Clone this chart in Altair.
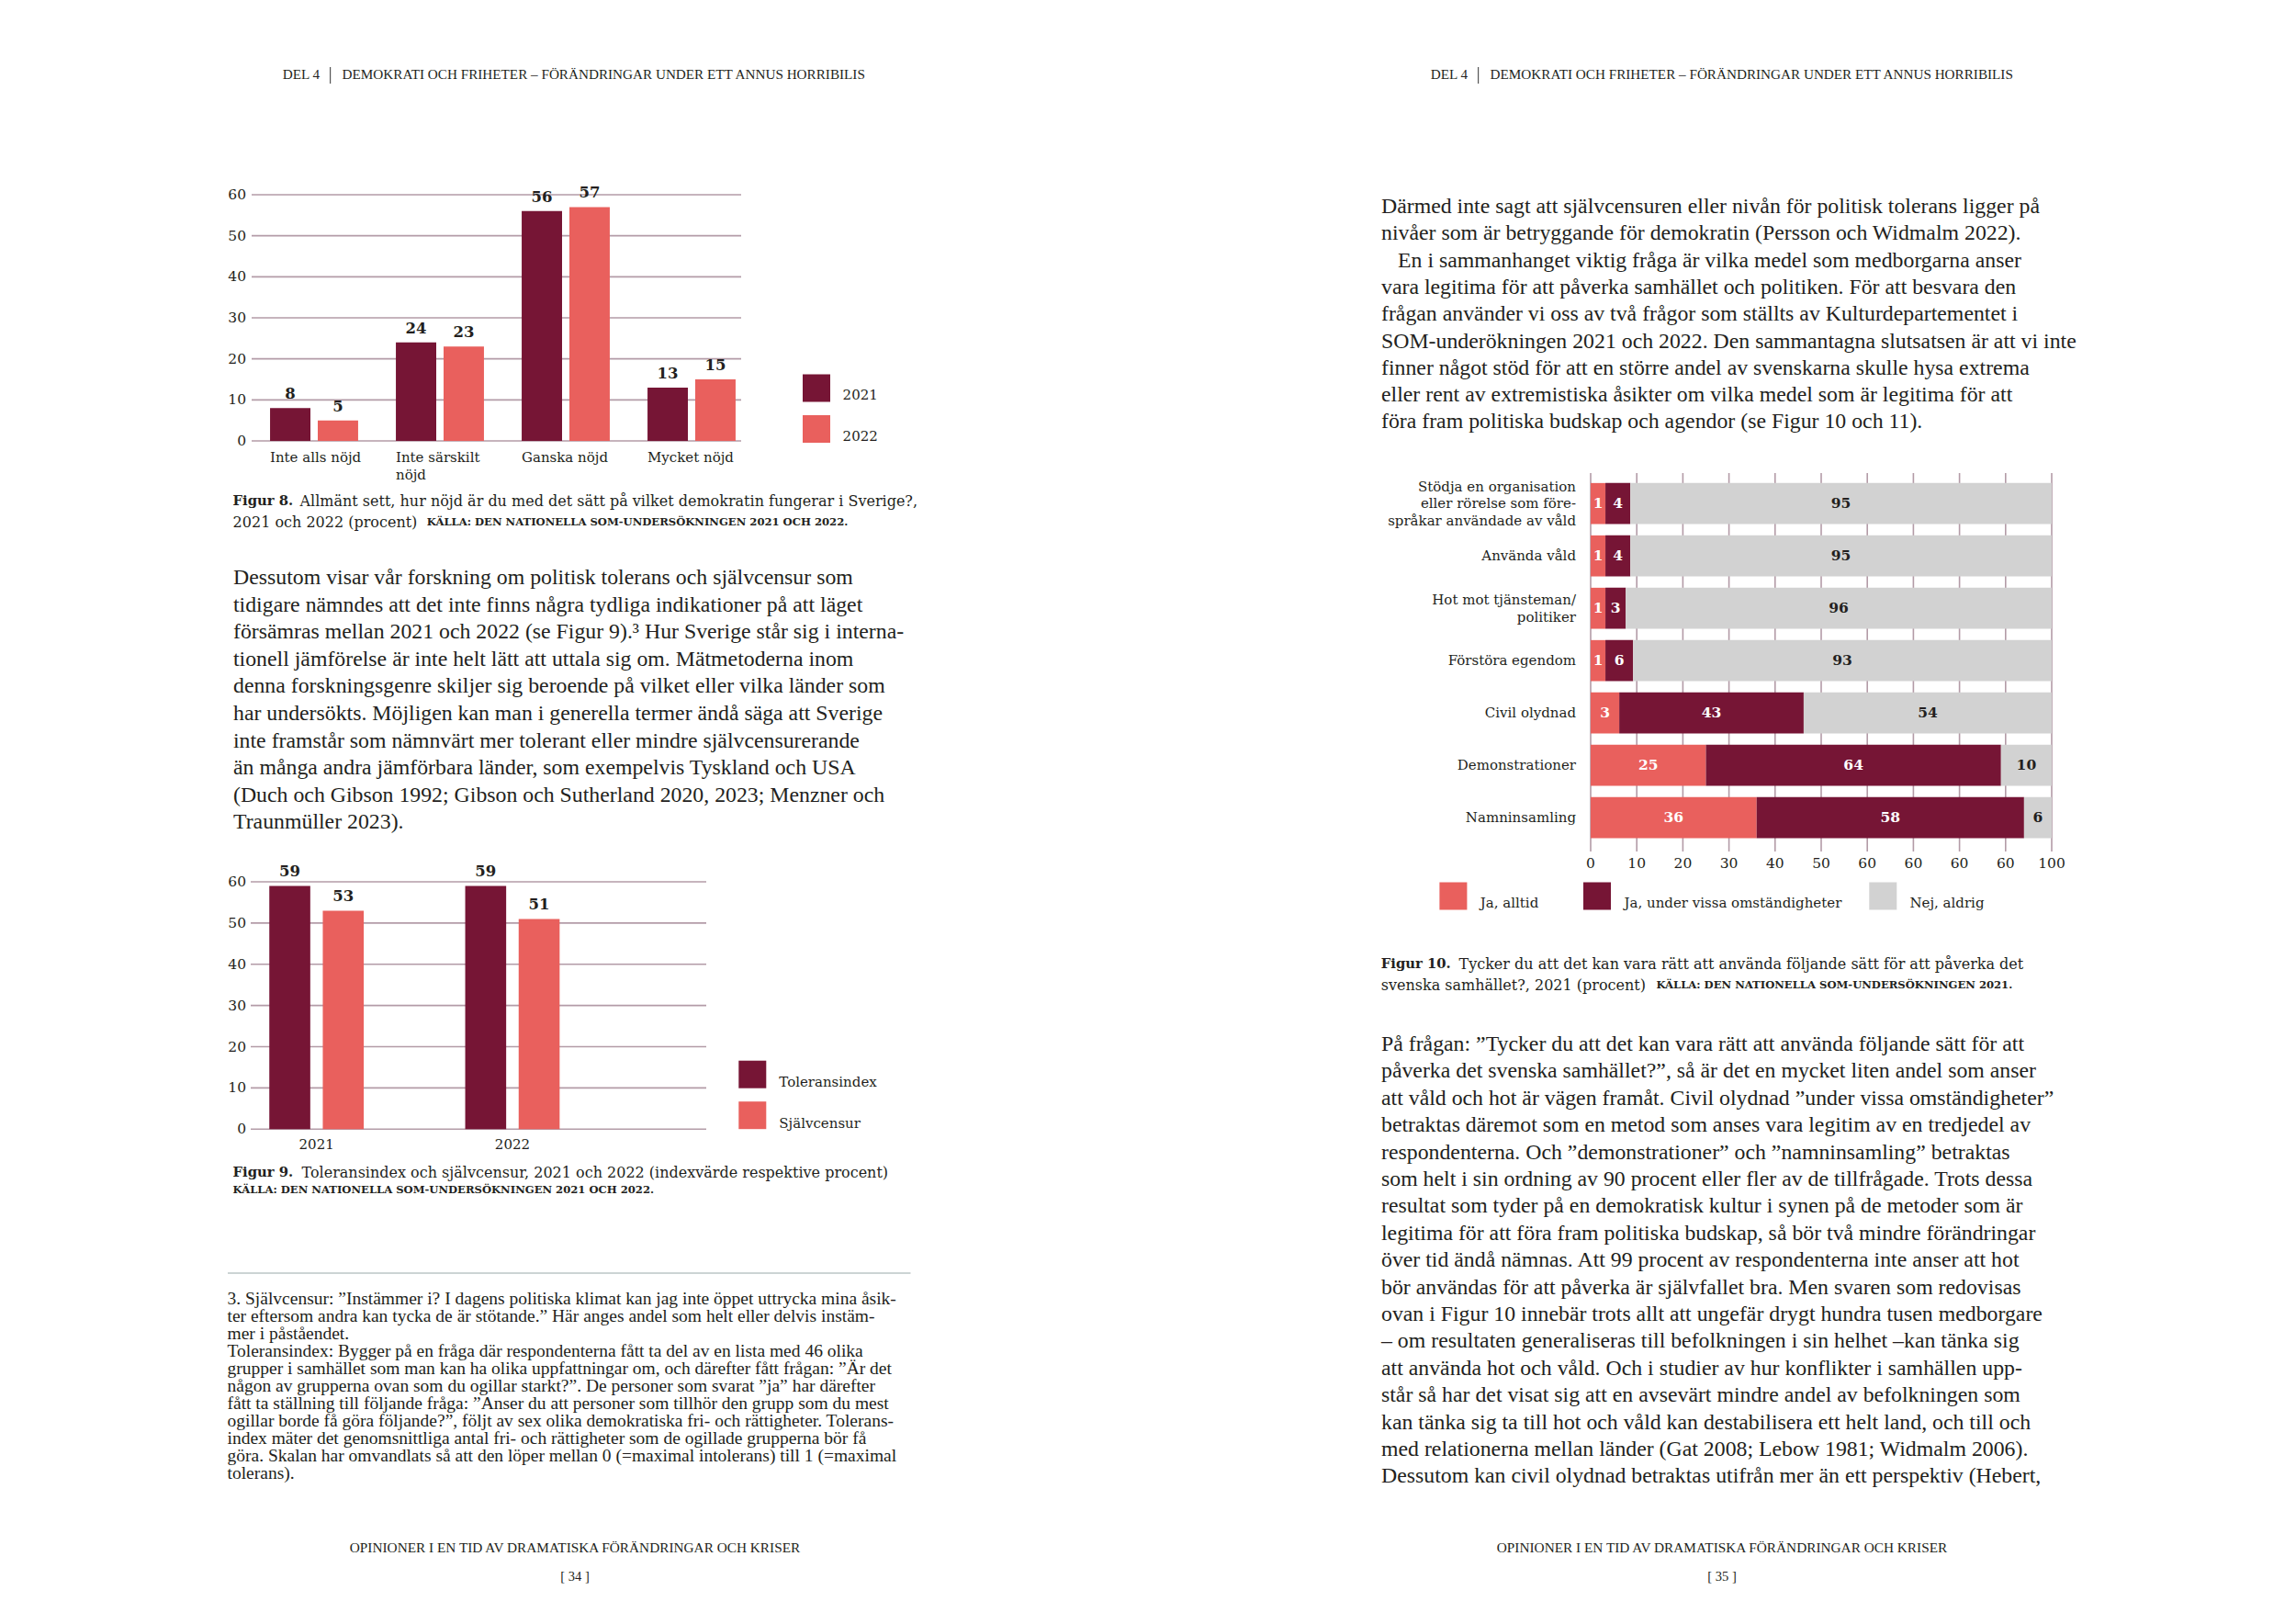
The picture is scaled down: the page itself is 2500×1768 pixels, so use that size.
import altair as alt
import pandas as pd

# ---------------------------------------------------------------- data
fig8_categories = ["Inte alls nöjd", "Inte särskilt\nnöjd", "Ganska nöjd", "Mycket nöjd"]
fig8_years = ["2021", "2022"]
fig8_values_2021 = [8, 24, 56, 13]
fig8_values_2022 = [5, 23, 57, 15]
fig8_ticks = [0, 10, 20, 30, 40, 50, 60]

fig9_years = ["2021", "2022"]
fig9_series = ["Toleransindex", "Självcensur"]
fig9_toleransindex = [59, 59]
fig9_sjalvcensur = [53, 51]
fig9_ticks = [0, 10, 20, 30, 40, 50, 60]

fig10_categories = [
    "Stödja en organisation\neller rörelse som före-\nspråkar användade av våld",
    "Använda våld",
    "Hot mot tjänsteman/\npolitiker",
    "Förstöra egendom",
    "Civil olydnad",
    "Demonstrationer",
    "Namninsamling",
]
fig10_series = ["Ja, alltid", "Ja, under vissa omständigheter", "Nej, aldrig"]
fig10_ja_alltid = [1, 1, 1, 1, 3, 25, 36]
fig10_ja_vissa = [4, 4, 3, 6, 43, 64, 58]
fig10_nej_aldrig = [95, 95, 96, 93, 54, 10, 6]
# segment lengths as drawn in the original (small segments are drawn wider there)
fig10_ja_alltid_drawn = [3.2, 3.2, 3.2, 3.2, 6.2, 25, 36]
fig10_ja_vissa_drawn = [5.4, 5.4, 4.4, 6.0, 40, 64, 58]
fig10_tick_values = [0, 10, 20, 30, 40, 50, 60, 70, 80, 90, 100]
fig10_tick_labels = ["0", "10", "20", "30", "40", "50", "60", "60", "60", "60", "100"]

header_part = "DEL 4"
header_title = "DEMOKRATI OCH FRIHETER – FÖRÄNDRINGAR UNDER ETT ANNUS HORRIBILIS"
footer_title = "OPINIONER I EN TID AV DRAMATISKA FÖRÄNDRINGAR OCH KRISER"
page_left = "[ 34 ]"
page_right = "[ 35 ]"

fig8_caption_bold = "Figur 8."
fig8_caption_1 = "Allmänt sett, hur nöjd är du med det sätt på vilket demokratin fungerar i Sverige?,"
fig8_caption_2 = "2021 och 2022 (procent)"
fig8_source = "KÄLLA: DEN NATIONELLA SOM-UNDERSÖKNINGEN 2021 OCH 2022."

fig9_caption_bold = "Figur 9."
fig9_caption_1 = "Toleransindex och självcensur, 2021 och 2022 (indexvärde respektive procent)"
fig9_source = "KÄLLA: DEN NATIONELLA SOM-UNDERSÖKNINGEN 2021 OCH 2022."

fig10_caption_bold = "Figur 10."
fig10_caption_1 = "Tycker du att det kan vara rätt att använda följande sätt för att påverka det"
fig10_caption_2 = "svenska samhället?, 2021 (procent)"
fig10_source = "KÄLLA: DEN NATIONELLA SOM-UNDERSÖKNINGEN 2021."

left_paragraph = [
    "Dessutom visar vår forskning om politisk tolerans och självcensur som",
    "tidigare nämndes att det inte finns några tydliga indikationer på att läget",
    "försämras mellan 2021 och 2022 (se Figur 9).³  Hur Sverige står sig i interna-",
    "tionell jämförelse är inte helt lätt att uttala sig om. Mätmetoderna inom",
    "denna forskningsgenre skiljer sig beroende på vilket eller vilka länder som",
    "har undersökts. Möjligen kan man i generella termer ändå säga att Sverige",
    "inte framstår som nämnvärt mer tolerant eller mindre självcensurerande",
    "än många andra jämförbara länder, som exempelvis Tyskland och USA",
    "(Duch och Gibson 1992; Gibson och Sutherland 2020, 2023; Menzner och",
    "Traunmüller 2023).",
]

footnote_lines = [
    "3.  Självcensur: ”Instämmer i? I dagens politiska klimat kan jag inte öppet uttrycka mina åsik-",
    "ter eftersom andra kan tycka de är stötande.” Här anges andel som helt eller delvis instäm-",
    "mer i påståendet.",
    "Toleransindex: Bygger på en fråga där respondenterna fått ta del av en lista med 46 olika",
    "grupper i samhället som man kan ha olika uppfattningar om, och därefter fått frågan: ”Är det",
    "någon av grupperna ovan som du ogillar starkt?”. De personer som svarat ”ja” har därefter",
    "fått ta ställning till följande fråga: ”Anser du att personer som tillhör den grupp som du mest",
    "ogillar borde få göra följande?”, följt av sex olika demokratiska fri- och rättigheter. Tolerans-",
    "index mäter det genomsnittliga antal fri- och rättigheter som de ogillade grupperna bör få",
    "göra. Skalan har omvandlats så att den löper mellan 0 (=maximal intolerans) till 1 (=maximal",
    "tolerans).",
]

right_paragraph_a = [
    "Därmed inte sagt att självcensuren eller nivån för politisk tolerans ligger på",
    "nivåer som är betryggande för demokratin (Persson och Widmalm 2022).",
]
right_paragraph_b_first = "En i sammanhanget viktig fråga är vilka medel som medborgarna anser"
right_paragraph_b = [
    "vara legitima för att påverka samhället och politiken. För att besvara den",
    "frågan använder vi oss av två frågor som ställts av Kulturdepartementet i",
    "SOM-underökningen 2021 och 2022. Den sammantagna slutsatsen är att vi inte",
    "finner något stöd för att en större andel av svenskarna skulle hysa extrema",
    "eller rent av extremistiska åsikter om vilka medel som är legitima för att",
    "föra fram politiska budskap och agendor (se Figur 10 och 11).",
]

right_paragraph_c = [
    "På frågan: ”Tycker du att det kan vara rätt att använda följande sätt för att",
    "påverka det svenska samhället?”, så är det en mycket liten andel som anser",
    "att våld och hot är vägen framåt. Civil olydnad ”under vissa omständigheter”",
    "betraktas däremot som en metod som anses vara legitim av en tredjedel av",
    "respondenterna. Och ”demonstrationer” och ”namninsamling” betraktas",
    "som helt i sin ordning av 90 procent eller fler av de tillfrågade. Trots dessa",
    "resultat som tyder på en demokratisk kultur i synen på de metoder som är",
    "legitima för att föra fram politiska budskap, så bör två mindre förändringar",
    "över tid ändå nämnas. Att 99 procent av respondenterna inte anser att hot",
    "bör användas för att påverka är självfallet bra. Men svaren som redovisas",
    "ovan i Figur 10 innebär trots allt att ungefär drygt hundra tusen medborgare",
    "– om resultaten generaliseras till befolkningen i sin helhet –kan tänka sig",
    "att använda hot och våld. Och i studier av hur konflikter i samhällen upp-",
    "står så har det visat sig att en avsevärt mindre andel av befolkningen som",
    "kan tänka sig ta till hot och våld kan destabilisera ett helt land, och till och",
    "med relationerna mellan länder (Gat 2008; Lebow 1981; Widmalm 2006).",
    "Dessutom kan civil olydnad betraktas utifrån mer än ett perspektiv (Hebert,",
]

# ---------------------------------------------------------------- style
MAROON = "#761535"
CORAL = "#e9605d"
GREY = "#d2d2d2"
GRID = "#b39ba7"
INK = "#231f20"
RULE = "#9aa9a9"
CHART_FONT = "DejaVu Serif"
BODY_FONT = "Liberation Serif"
BODY_FS = 23.8
CAP_FS = 16
CAP_BOLD_FS = 14.8
SRC_FS = 11.6
VAL_FS = 16.5
W, H = 2484, 1752
MARGIN = 8


def cx(v):
    """page pixel -> canvas pixel"""
    return v - MARGIN


ONE = pd.DataFrame({"a": [0]})
layers = []


def text_block(lines, x, y0, lh, size, font=BODY_FONT, weight="normal", color=INK,
               align="left", start=0):
    df = pd.DataFrame({"t": lines, "i": [start + k for k in range(len(lines))]})
    return alt.Chart(df).mark_text(
        align=align, baseline="middle", font=font, fontSize=size,
        fontWeight=weight, color=color
    ).encode(
        x=alt.value(cx(x)),
        y=alt.Y("i:Q", scale=alt.Scale(domain=[0, 1], range=[cx(y0), cx(y0) + lh],
                                       nice=False, zero=False), axis=None),
        text="t:N",
    )


def seg(text, x, y, size, font=CHART_FONT, weight="normal", color=INK, align="left"):
    return text_block([text], x, y, 10, size, font=font, weight=weight, color=color, align=align)


def vrule(x, y1, y2, color=INK, w=1.0):
    return alt.Chart(ONE).mark_rule(color=color, strokeWidth=w).encode(
        x=alt.value(cx(x)), y=alt.value(cx(y1)), y2=alt.value(cx(y2)))


def hrule(x1, x2, y, color=INK, w=1.0):
    return alt.Chart(ONE).mark_rule(color=color, strokeWidth=w).encode(
        x=alt.value(cx(x1)), x2=alt.value(cx(x2)), y=alt.value(cx(y)))


# ---------------------------------------------------------------- headers / footers
for (x_part, x_bar, x_title) in [(307.7, 359.6, 372.6), (1557.7, 1609.6, 1622.6)]:
    layers.append(seg(header_part, x_part, 81, 15.2, font=BODY_FONT))
    layers.append(vrule(x_bar, 73, 91, color="#555555", w=1.2))
    layers.append(seg(header_title, x_title, 81, 15.2, font=BODY_FONT))

for (xc, pg) in [(626, page_left), (1875, page_right)]:
    layers.append(seg(footer_title, xc, 1685, 15.3, font=BODY_FONT, align="center"))
    layers.append(seg(pg, xc, 1717, 14.5, font=BODY_FONT, align="center"))

# ---------------------------------------------------------------- body text
layers.append(text_block(left_paragraph, 254, 629, 29.6, BODY_FS))
layers.append(hrule(248, 991.5, 1386, color=RULE, w=1.2))
layers.append(text_block(footnote_lines, 247.5, 1414, 19.0, 19.5))
layers.append(text_block(right_paragraph_a, 1504, 225, 29.3, BODY_FS))
layers.append(text_block([right_paragraph_b_first], 1522, 225, 29.3, BODY_FS, start=2))
layers.append(text_block(right_paragraph_b, 1504, 225, 29.3, BODY_FS, start=3))
layers.append(text_block(right_paragraph_c, 1504, 1137, 29.4, BODY_FS))

# ---------------------------------------------------------------- Figure 8
f8 = pd.DataFrame({
    "cat": fig8_categories * 2,
    "year": [fig8_years[0]] * 4 + [fig8_years[1]] * 4,
    "value": fig8_values_2021 + fig8_values_2022,
})
x8 = alt.Scale(domain=fig8_categories, range=[cx(273.5), cx(821.5)],
               paddingInner=0.3, paddingOuter=0.15)
xo8 = alt.Scale(domain=fig8_years, paddingInner=0.154, paddingOuter=0)
y8 = alt.Scale(domain=[0, 60], range=[cx(480), cx(212)], nice=False, zero=False)
col8 = alt.Scale(domain=fig8_years, range=[MAROON, CORAL])
tick8 = pd.DataFrame({"v": fig8_ticks})

layers.append(alt.Chart(tick8).mark_rule(color=GRID, strokeWidth=1.6).encode(
    y=alt.Y("v:Q", scale=y8, axis=None), x=alt.value(cx(274)), x2=alt.value(cx(807))))
layers.append(alt.Chart(tick8).mark_text(
    align="right", baseline="middle", font=CHART_FONT, fontSize=15.5, color=INK).encode(
    y=alt.Y("v:Q", scale=y8, axis=None), x=alt.value(cx(268)), text="v:Q"))
layers.append(alt.Chart(f8).mark_bar().encode(
    x=alt.X("cat:N", scale=x8, sort=None, axis=None),
    xOffset=alt.XOffset("year:N", scale=xo8, sort=None),
    y=alt.Y("value:Q", scale=y8, axis=None),
    color=alt.Color("year:N", scale=col8, legend=None)))
# value labels: centred over each bar (bar centres sit +-26 px from the group centre)
for yr, shift in zip(fig8_years, [-26, 26]):
    layers.append(alt.Chart(f8[f8["year"] == yr]).mark_text(
        baseline="alphabetic", dx=shift, dy=-10, font=CHART_FONT, fontSize=VAL_FS,
        fontWeight="bold", color=INK).encode(
        x=alt.X("cat:N", scale=x8, sort=None, axis=None),
        y=alt.Y("value:Q", scale=y8, axis=None),
        text="value:Q"))
cat8_rows = []
for c in fig8_categories:
    for k, ln in enumerate(c.split("\n")):
        cat8_rows.append({"cat": c, "ln": k, "t": ln})
layers.append(alt.Chart(pd.DataFrame(cat8_rows)).mark_text(
    align="left", baseline="middle", dx=-48, font=CHART_FONT, fontSize=15, color=INK).encode(
    x=alt.X("cat:N", scale=x8, sort=None, axis=None),
    y=alt.Y("ln:Q", scale=alt.Scale(domain=[0, 1], range=[cx(497.5), cx(516.6)],
                                    nice=False, zero=False), axis=None),
    text="t:N"))
leg8 = pd.DataFrame({"year": fig8_years})
ly8 = alt.Scale(type="point", domain=fig8_years, range=[cx(422.5), cx(467)], padding=0)
layers.append(alt.Chart(leg8).mark_square(size=900, opacity=1, strokeWidth=0).encode(
    y=alt.Y("year:N", scale=ly8, axis=None), x=alt.value(cx(889)),
    color=alt.Color("year:N", scale=col8, legend=None)))
layers.append(alt.Chart(leg8).mark_text(
    align="left", baseline="middle", dy=7.5, font=CHART_FONT, fontSize=15, color=INK).encode(
    y=alt.Y("year:N", scale=ly8, axis=None), x=alt.value(cx(917.6)), text="year:N"))

layers.append(seg(fig8_caption_bold, 253.6, 546, CAP_BOLD_FS, weight="bold"))
layers.append(seg(fig8_caption_1, 326.5, 546, CAP_FS))
layers.append(seg(fig8_caption_2, 253.6, 568.5, CAP_FS))
layers.append(seg(fig8_source, 464.8, 568.5, SRC_FS, weight="bold"))

# ---------------------------------------------------------------- Figure 9
f9 = pd.DataFrame({
    "year": fig9_years * 2,
    "series": [fig9_series[0]] * 2 + [fig9_series[1]] * 2,
    "value": fig9_toleransindex + fig9_sjalvcensur,
})
x9 = alt.Scale(domain=fig9_years, range=[cx(238), cx(664.6)],
               paddingInner=0.518, paddingOuter=0.259)
xo9 = alt.Scale(domain=fig9_series, paddingInner=0.234, paddingOuter=0)
y9 = alt.Scale(domain=[0, 60], range=[cx(1229.3), cx(960)], nice=False, zero=False)
col9 = alt.Scale(domain=fig9_series, range=[MAROON, CORAL])
tick9 = pd.DataFrame({"v": fig9_ticks})

layers.append(alt.Chart(tick9).mark_rule(color=GRID, strokeWidth=1.6).encode(
    y=alt.Y("v:Q", scale=y9, axis=None), x=alt.value(cx(273)), x2=alt.value(cx(769))))
layers.append(alt.Chart(tick9).mark_text(
    align="right", baseline="middle", font=CHART_FONT, fontSize=15.5, color=INK).encode(
    y=alt.Y("v:Q", scale=y9, axis=None), x=alt.value(cx(268)), text="v:Q"))
layers.append(alt.Chart(f9).mark_bar().encode(
    x=alt.X("year:N", scale=x9, sort=None, axis=None),
    xOffset=alt.XOffset("series:N", scale=xo9, sort=None),
    y=alt.Y("value:Q", scale=y9, axis=None),
    color=alt.Color("series:N", scale=col9, legend=None)))
for sr, shift in zip(fig9_series, [-29.1, 29.1]):
    layers.append(alt.Chart(f9[f9["series"] == sr]).mark_text(
        baseline="alphabetic", dx=shift, dy=-10, font=CHART_FONT, fontSize=VAL_FS,
        fontWeight="bold", color=INK).encode(
        x=alt.X("year:N", scale=x9, sort=None, axis=None),
        y=alt.Y("value:Q", scale=y9, axis=None),
        text="value:Q"))
layers.append(alt.Chart(pd.DataFrame({"year": fig9_years})).mark_text(
    align="center", baseline="middle", font=CHART_FONT, fontSize=15, color=INK).encode(
    x=alt.X("year:N", scale=x9, sort=None, axis=None),
    y=alt.value(cx(1246)), text="year:N"))
leg9 = pd.DataFrame({"series": fig9_series})
ly9 = alt.Scale(type="point", domain=fig9_series, range=[cx(1169.7), cx(1214.2)], padding=0)
layers.append(alt.Chart(leg9).mark_square(size=900, opacity=1, strokeWidth=0).encode(
    y=alt.Y("series:N", scale=ly9, axis=None), x=alt.value(cx(819.3)),
    color=alt.Color("series:N", scale=col9, legend=None)))
layers.append(alt.Chart(leg9).mark_text(
    align="left", baseline="middle", dy=8.5, font=CHART_FONT, fontSize=15, color=INK).encode(
    y=alt.Y("series:N", scale=ly9, axis=None), x=alt.value(cx(848.3)), text="series:N"))

layers.append(seg(fig9_caption_bold, 253.6, 1276.5, CAP_BOLD_FS, weight="bold"))
layers.append(seg(fig9_caption_1, 328.5, 1276.5, CAP_FS))
layers.append(seg(fig9_source, 253.6, 1295.5, SRC_FS, weight="bold"))

# ---------------------------------------------------------------- Figure 10
rows10 = []
for i, cat in enumerate(fig10_categories):
    a = fig10_ja_alltid_drawn[i]
    b = fig10_ja_vissa_drawn[i]
    segs = [
        (fig10_series[0], 0, a, fig10_ja_alltid[i]),
        (fig10_series[1], a, a + b, fig10_ja_vissa[i]),
        (fig10_series[2], a + b, 100, fig10_nej_aldrig[i]),
    ]
    for (s, x0, x1, lab) in segs:
        rows10.append({"cat": cat, "series": s, "x0": x0, "x1": x1,
                       "mid": (x0 + x1) / 2, "label": str(lab)})
f10 = pd.DataFrame(rows10)
x10 = alt.Scale(domain=[0, 100], range=[cx(1732), cx(2234)], nice=False, zero=False)
y10 = alt.Scale(domain=fig10_categories, range=[cx(519.7), cx(918.7)],
                paddingInner=0.216, paddingOuter=0.108)
col10 = alt.Scale(domain=fig10_series, range=[CORAL, MAROON, GREY])
txtcol10 = alt.Scale(domain=fig10_series, range=["#ffffff", "#ffffff", INK])
tick10 = pd.DataFrame({"v": fig10_tick_values, "lab": fig10_tick_labels})

layers.append(alt.Chart(tick10).mark_rule(color=GRID, strokeWidth=1.6).encode(
    x=alt.X("v:Q", scale=x10, axis=None), y=alt.value(cx(515)), y2=alt.value(cx(927))))
layers.append(alt.Chart(f10).mark_bar().encode(
    y=alt.Y("cat:N", scale=y10, sort=None, axis=None),
    x=alt.X("x0:Q", scale=x10, axis=None), x2="x1:Q",
    color=alt.Color("series:N", scale=col10, legend=None)))
layers.append(alt.Chart(f10).mark_text(
    align="center", baseline="middle", font=CHART_FONT, fontSize=15.5, fontWeight="bold").encode(
    y=alt.Y("cat:N", scale=y10, sort=None, axis=None),
    x=alt.X("mid:Q", scale=x10, axis=None),
    text="label:N",
    color=alt.Color("series:N", scale=txtcol10, legend=None)))

# category labels: one text per line, each block vertically centred on its bar
LH10 = 18.7
lab_rows = []
for cat in fig10_categories:
    parts = cat.split("\n")
    n = len(parts)
    for k, ln in enumerate(parts):
        lab_rows.append({"cat": cat, "t": ln, "off": round((k - (n - 1) / 2) * LH10, 2)})
lab_df = pd.DataFrame(lab_rows)
for off in sorted(lab_df["off"].unique()):
    layers.append(alt.Chart(lab_df[lab_df["off"] == off]).mark_text(
        align="right", baseline="middle", dy=float(off),
        font=CHART_FONT, fontSize=15, color=INK).encode(
        y=alt.Y("cat:N", scale=y10, sort=None, axis=None),
        x=alt.value(cx(1716)), text="t:N"))

layers.append(alt.Chart(tick10).mark_text(
    align="center", baseline="middle", font=CHART_FONT, fontSize=15.5, color=INK).encode(
    x=alt.X("v:Q", scale=x10, axis=None), y=alt.value(cx(940)), text="lab:N"))

leg10_sq_x = [1582.4, 1739.0, 2050.3]
leg10_tx_x = [1611.8, 1768.5, 2079.4]
leg10_colors = [CORAL, MAROON, GREY]
for s, xs, xt, c in zip(fig10_series, leg10_sq_x, leg10_tx_x, leg10_colors):
    d = pd.DataFrame({"series": [s]})
    layers.append(alt.Chart(d).mark_square(size=900, opacity=1, strokeWidth=0, color=c).encode(
        x=alt.value(cx(xs)), y=alt.value(cx(975.5))))
    layers.append(alt.Chart(d).mark_text(
        align="left", baseline="middle", font=CHART_FONT, fontSize=15, color=INK).encode(
        x=alt.value(cx(xt)), y=alt.value(cx(982.5)), text="series:N"))

layers.append(seg(fig10_caption_bold, 1503.8, 1050, CAP_BOLD_FS, weight="bold"))
layers.append(seg(fig10_caption_1, 1588.5, 1050, CAP_FS))
layers.append(seg(fig10_caption_2, 1503.8, 1072.5, CAP_FS))
layers.append(seg(fig10_source, 1803.4, 1072.5, SRC_FS, weight="bold"))

# ---------------------------------------------------------------- assemble
chart = alt.layer(*layers).resolve_scale(
    x="independent", y="independent", color="independent", xOffset="independent"
).properties(
    width=W, height=H, padding=0,
    autosize=alt.AutoSizeParams(type="none"),
    background="white",
).configure_view(stroke=None)

chart.save("out.html", embed_options={"renderer": "svg", "actions": False})
